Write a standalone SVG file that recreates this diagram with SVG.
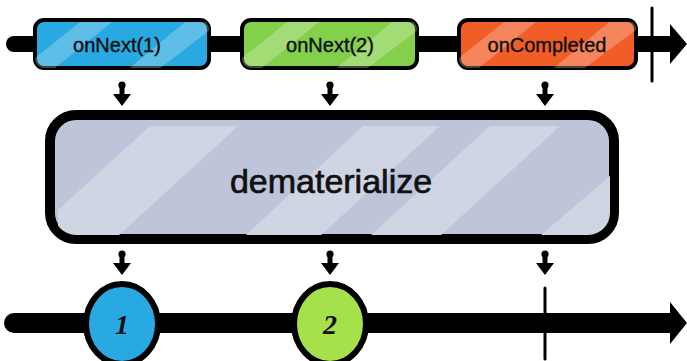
<svg xmlns="http://www.w3.org/2000/svg" width="687" height="361" viewBox="0 0 687 361">
<style>
.lbl{font-family:"Liberation Sans",sans-serif;font-size:20px;fill:#111;stroke:#111;stroke-width:0.4;text-anchor:middle}
.big{font-family:"Liberation Sans",sans-serif;font-size:34px;fill:#111;stroke:#111;stroke-width:0.7;text-anchor:middle}
.num{font-family:"Liberation Serif",serif;font-size:28px;font-style:italic;font-weight:bold;fill:#111;text-anchor:middle}
.box{stroke:#000;stroke-width:4}
.stripe{fill:#fff;opacity:0.25}
</style>
<defs>
<clipPath id="cb1"><rect x="35" y="20" width="174" height="48" rx="9"/></clipPath>
<clipPath id="cb2"><rect x="242" y="20" width="175" height="48" rx="9"/></clipPath>
<clipPath id="cb3"><rect x="459" y="20" width="177" height="48" rx="9"/></clipPath>
<clipPath id="cbd"><rect x="54" y="119" width="556" height="116" rx="22"/></clipPath>
<g id="darr"><circle cx="0" cy="0" r="3.6" fill="#000"/><path d="M-2.5,2 L2.5,2 L2.5,9 L9,9 L0,21 L-9,9 L-2.5,9 Z" fill="#000"/></g>
</defs>

<g id="connectors">
<line x1="14" y1="44" x2="672" y2="44" stroke="#000" stroke-width="16" stroke-linecap="round"/>
<path d="M670,24 L687,44 L670,64 Z" fill="#000"/>
<line x1="652" y1="8" x2="652" y2="81" stroke="#000" stroke-width="3" stroke-linecap="round"/>
<line x1="14" y1="323" x2="672" y2="323" stroke="#000" stroke-width="20" stroke-linecap="round"/>
<path d="M670,302 L687,323 L670,344 Z" fill="#000"/>
<line x1="545" y1="288" x2="545" y2="359" stroke="#000" stroke-width="3" stroke-linecap="round"/>
<use href="#darr" x="122" y="85"/>
<use href="#darr" x="330" y="85"/>
<use href="#darr" x="545" y="85"/>
<use href="#darr" x="122" y="254"/>
<use href="#darr" x="330" y="254"/>
<use href="#darr" x="545" y="254"/>
</g>

<g id="onNext1">
<rect class="box" x="35" y="20" width="174" height="48" rx="9" fill="#29A9E1"/>
<g clip-path="url(#cb1)">
<polygon class="stripe" points="35,58 80,22 112,22 45,76 35,76"/>
<polygon class="stripe" points="120,76 185,22 210,22 210,30 150,76"/>
</g>
<text class="lbl" x="117" y="52">onNext(1)</text>
</g>

<g id="onNext2">
<rect class="box" x="242" y="20" width="175" height="48" rx="9" fill="#84D04A"/>
<g clip-path="url(#cb2)">
<polygon class="stripe" points="242,58 287,22 319,22 252,76 242,76"/>
<polygon class="stripe" points="327,76 392,22 418,22 418,30 357,76"/>
</g>
<text class="lbl" x="330" y="52">onNext(2)</text>
</g>

<g id="onCompleted">
<rect class="box" x="459" y="20" width="177" height="48" rx="9" fill="#F15D26"/>
<g clip-path="url(#cb3)">
<polygon class="stripe" points="459,58 504,22 536,22 469,76 459,76"/>
<polygon class="stripe" points="544,76 609,22 636,22 636,30 574,76"/>
</g>
<text class="lbl" x="547" y="52">onCompleted</text>
</g>

<g id="dematerialize">
<rect x="50" y="115" width="564" height="124" rx="26" fill="#BEC4DA" stroke="#000" stroke-width="10"/>
<g clip-path="url(#cbd)">
<polygon points="58,210 150,126 238,126 118,236 58,236" fill="#D0D5E4"/>
<polygon points="245,236 363,126 440,126 320,236" fill="#D0D5E4"/>
<polygon points="370,236 490,126 560,126 440,236" fill="#D0D5E4"/>
<polygon points="540,236 611,175 611,236" fill="#D0D5E4"/>
</g>
<text class="big" x="331" y="193">dematerialize</text>
</g>

<g id="item1">
<ellipse cx="122" cy="324" rx="36" ry="40" fill="#29A9E1" stroke="#000" stroke-width="6"/>
<text class="num" x="122" y="334">1</text>
</g>

<g id="item2">
<ellipse cx="330" cy="324" rx="36" ry="40" fill="#A6E04A" stroke="#000" stroke-width="6"/>
<text class="num" x="330" y="334">2</text>
</g>
</svg>
